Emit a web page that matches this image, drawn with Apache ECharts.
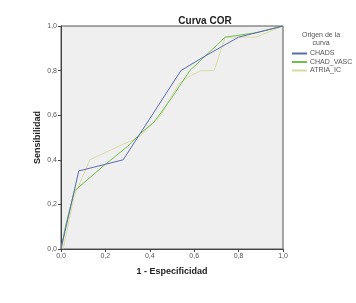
<!DOCTYPE html>
<html lang="es">
<head>
    <meta charset="UTF-8">
    <title>Curva COR</title>
    <script src="https://cdnjs.cloudflare.com/ajax/libs/echarts/6.0.0/echarts.min.js"></script>
    <style>
        html, body { margin: 0; padding: 0; background: #fff; }
        #main { width: 356px; height: 303px; }
    </style>
</head>
<body>
    <div id="main"></div>
    <script>
        // datos de la curva COR (1 - especificidad, sensibilidad)
        const seriesNames = ['CHADS', 'CHAD_VASC', 'ATRIA_IC'];
        const chads = [[0, 0], [0.08, 0.35], [0.2, 0.38], [0.28, 0.40], [0.54, 0.80], [0.64, 0.86], [0.8, 0.95], [1, 1]];
        const chadVasc = [[0, 0], [0.02, 0.1], [0.06, 0.26], [0.13, 0.32], [0.2, 0.38], [0.3, 0.46], [0.36, 0.52],
            [0.42, 0.57], [0.5, 0.68], [0.58, 0.80], [0.74, 0.95], [0.88, 0.97], [1, 1]];
        const atriaIc = [[0.01, 0], [0.06, 0.24], [0.1, 0.33], [0.13, 0.40], [0.28, 0.47], [0.35, 0.50], [0.45, 0.60],
            [0.53, 0.74], [0.57, 0.77], [0.63, 0.80], [0.69, 0.80], [0.74, 0.95], [0.8, 0.95], [0.88, 0.95], [1, 1]];
        const ticks = [0, 0.2, 0.4, 0.6, 0.8, 1.0];
        const colors = ['#5a6bab', '#72bd4f', '#d9dba4'];

        const chart = echarts.init(document.getElementById('main'));
        const fmt = v => v.toFixed(1).replace('.', ',');

        const axisCommon = {
            min: 0, max: 1, interval: 0.2,
            axisLine: { show: true, lineStyle: { color: '#444', width: 1 } },
            axisTick: { show: true, length: 3, lineStyle: { color: '#444' } },
            axisLabel: { fontSize: 7, color: '#555', fontFamily: 'Liberation Sans', formatter: fmt, margin: 4 },
            splitLine: { show: false },
            nameLocation: 'middle',
            nameMoveOverlap: false,
            nameTextStyle: { fontSize: 9, fontWeight: 'bold', color: '#222', fontFamily: 'Liberation Sans' }
        };

        const option = {
            animation: false,
            title: {
                text: 'Curva COR', left: 200, top: 11, textAlign: 'center',
                textStyle: { fontSize: 10, fontWeight: 'bold', color: '#222', fontFamily: 'Liberation Sans' }
            },
            grid: { left: 61, right: 73, top: 26, bottom: 54, show: true, backgroundColor: '#efefef', borderColor: '#555', borderWidth: 1 },
            xAxis: Object.assign({}, axisCommon, { type: 'value', name: '1 - Especificidad', nameGap: 18 }),
            yAxis: Object.assign({}, axisCommon, { type: 'value', name: 'Sensibilidad', nameGap: 19 }),
            legend: {
                orient: 'vertical', left: 287, top: 45, itemWidth: 15, itemHeight: 2, itemGap: 1.5,
                icon: 'rect',
                textStyle: { fontSize: 7, color: '#555', fontFamily: 'Liberation Sans', padding: [0, 0, 0, -2] },
                data: seriesNames
            },
            graphic: [{
                type: 'text', left: 302, top: 31,
                style: { text: 'Origen de la\ncurva', fontSize: 7, fill: '#555', textAlign: 'center', fontFamily: 'Liberation Sans', lineHeight: 8 }
            }],
            series: [chads, chadVasc, atriaIc].map((d, i) => ({
                name: seriesNames[i], type: 'line', data: d, showSymbol: false,
                lineStyle: { width: 1, color: colors[i] }, itemStyle: { color: colors[i] }
            })).reverse()
        };
        chart.setOption(option);
    </script>
</body>
</html>
